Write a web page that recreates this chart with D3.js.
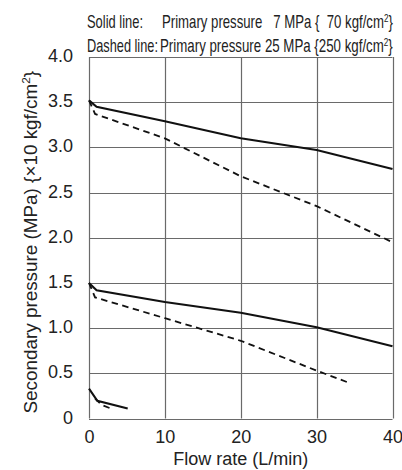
<!DOCTYPE html>
<html><head><meta charset="utf-8">
<script src="https://cdn.jsdelivr.net/npm/d3@7"></script>
<style>body{margin:0;background:#fff}svg{display:block}</style>
</head><body>
<script>
// Data
const xTicks = [0, 10, 20, 30, 40];
const yTicks = [0, 0.5, 1.0, 1.5, 2.0, 2.5, 3.0, 3.5, 4.0];
const yTickLabels = ["0", "0.5", "1.0", "1.5", "2.0", "2.5", "3.0", "3.5", "4.0"];

const solidHighFlow = [0, 1, 10, 20, 30, 40];
const solidHighP    = [3.52, 3.45, 3.29, 3.10, 2.97, 2.76];
const dashedHighFlow = [0, 0.8, 10, 20, 30, 40];
const dashedHighP    = [3.52, 3.37, 3.10, 2.68, 2.35, 1.95];
const solidMidFlow = [0, 1, 10, 20, 30, 40];
const solidMidP    = [1.50, 1.42, 1.29, 1.17, 1.01, 0.80];
const dashedMidFlow = [0, 0.8, 10, 20, 30, 34.1];
const dashedMidP    = [1.50, 1.34, 1.11, 0.86, 0.53, 0.40];
const solidLowFlow = [0, 1.1, 5.1];
const solidLowP    = [0.33, 0.195, 0.11];
const dashedLowFlow = [0.8, 1.7, 3.2];
const dashedLowP    = [0.22, 0.15, 0.10];

const series = [
  {flow: solidHighFlow, p: solidHighP, dashed: false},
  {flow: dashedHighFlow, p: dashedHighP, dashed: true},
  {flow: solidMidFlow, p: solidMidP, dashed: false},
  {flow: dashedMidFlow, p: dashedMidP, dashed: true},
  {flow: solidLowFlow, p: solidLowP, dashed: false},
  {flow: dashedLowFlow, p: dashedLowP, dashed: true}
];

const W = 402, H = 470;
const svg = d3.select("body").append("svg").attr("width", W).attr("height", H);
const font = "Liberation Sans, Arial, Helvetica, sans-serif";

const x = d3.scaleLinear().domain([0, 40]).range([89, 392.5]);
const y = d3.scaleLinear().domain([0, 4]).range([418.5, 57]);

// grid
const g = svg.append("g");
g.selectAll("line.h").data(yTicks).join("line")
  .attr("x1", x(0)).attr("x2", x(40))
  .attr("y1", d => Math.round(y(d)) + 0.5).attr("y2", d => Math.round(y(d)) + 0.5)
  .attr("stroke", "#6a6a6a").attr("stroke-width", 1.2);
g.selectAll("line.v").data(xTicks).join("line")
  .attr("y1", y(0)).attr("y2", y(4))
  .attr("x1", d => Math.round(x(d)) + 0.5).attr("x2", d => Math.round(x(d)) + 0.5)
  .attr("stroke", "#6a6a6a").attr("stroke-width", 1.2);

// axes labels via d3 axes
const xAxis = svg.append("g").attr("transform", `translate(0,${y(0)})`)
  .call(d3.axisBottom(x).tickValues(xTicks).tickSize(0).tickPadding(12).tickFormat(d3.format("d")));
xAxis.select(".domain").remove();
xAxis.selectAll("text").attr("font-family", font).attr("font-size", 18).attr("fill", "#222");

const yAxis = svg.append("g").attr("transform", `translate(${x(0)},0)`)
  .call(d3.axisLeft(y).tickValues(yTicks).tickSize(0).tickPadding(16)
    .tickFormat((d, i) => yTickLabels[i]));
yAxis.select(".domain").remove();
yAxis.selectAll("text").attr("font-family", font).attr("font-size", 18).attr("fill", "#222").attr("dy", "0.25em");

// lines
const line = d3.line().x(d => x(d[0])).y(d => y(d[1]));
svg.append("g").selectAll("path").data(series).join("path")
  .attr("d", s => line(s.flow.map((f, i) => [f, s.p[i]])))
  .attr("fill", "none").attr("stroke", "#111")
  .attr("stroke-width", s => s.dashed ? 1.8 : 2.1)
  .attr("stroke-dasharray", s => s.dashed ? "6.5,4.5" : null);

// axis titles
svg.append("text").attr("x", (x(0) + x(40)) / 2).attr("y", 465)
  .attr("text-anchor", "middle").attr("font-family", font).attr("font-size", 18).attr("fill", "#222")
  .text("Flow rate (L/min)");

// y title: fit its length to ~343px, centred at y=242
const ytg = svg.append("g");
const yt = ytg.append("text").attr("font-family", font).attr("font-size", 17.5).attr("fill", "#222");
yt.append("tspan").text("Secondary pressure (MPa) {\u00d710 kgf/cm");
yt.append("tspan").attr("font-size", 11).attr("dy", -7).text("2");
yt.append("tspan").attr("dy", 7).text("}");
{
  const w = yt.node().getBBox().width;
  const s = 343 / w;
  yt.attr("x", -w / 2);
  ytg.attr("transform", `translate(37,242) rotate(-90) scale(${s},1)`);
}

// header (condensed by horizontal scaling to measured widths)
const hf = "Liberation Sans Narrow, Liberation Sans, Arial, sans-serif";
function header(xp, yp, len, parts) {
  const gg = svg.append("g");
  const t = gg.append("text").attr("x", 0).attr("y", 0)
    .attr("font-family", hf).attr("font-size", 18).attr("fill", "#222")
    .style("white-space", "pre");
  parts.forEach(p => {
    const ts = t.append("tspan").text(p.t);
    if (p.sup) ts.attr("font-size", 11).attr("dy", -6.5);
    if (p.down) ts.attr("dy", 6.5);
  });
  const w = t.node().getBBox().width;
  gg.attr("transform", `translate(${xp},${yp}) scale(${len / w},1)`);
}
header(87, 28, 56, [{t: "Solid line:"}]);
header(162, 28, 231, [{t: "Primary pressure   7 MPa {  70 kgf/cm"}, {t: "2", sup: true}, {t: "}", down: true}]);
header(87, 52, 71, [{t: "Dashed line:"}]);
header(160, 52, 233, [{t: "Primary pressure 25 MPa {250 kgf/cm"}, {t: "2", sup: true}, {t: "}", down: true}]);
</script>
</body></html>
